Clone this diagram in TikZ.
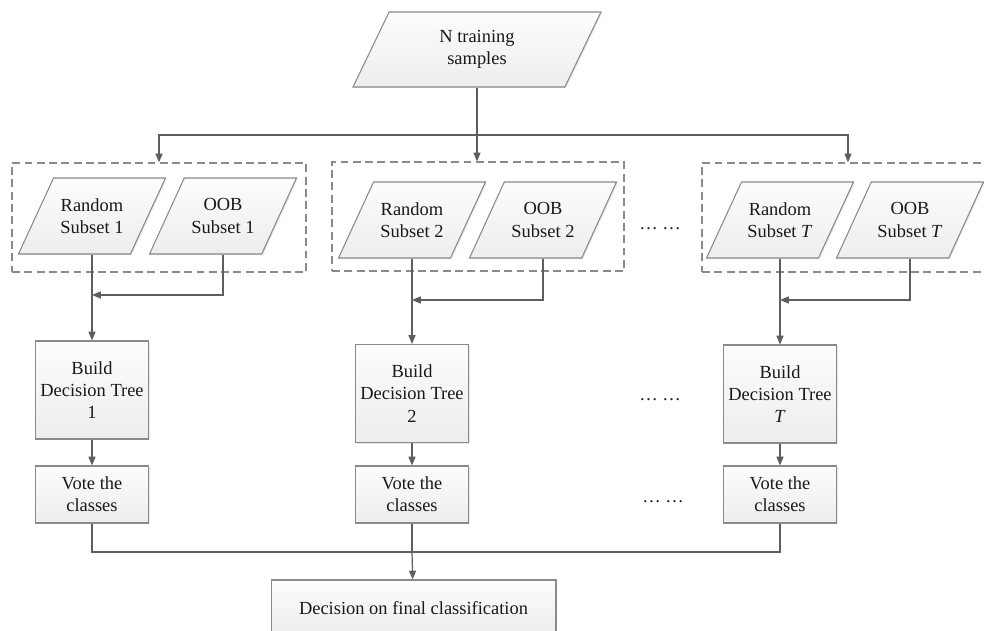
\documentclass[tikz,border=0pt]{standalone}
\usepackage{fontspec}
\setmainfont{Liberation Serif}
\usetikzlibrary{shapes.geometric,arrows.meta,shadows}

\definecolor{linegray}{HTML}{5E5E5E}
\definecolor{boxgray}{HTML}{8A8A8A}

\tikzset{
  shade box/.style={draw=boxgray, line width=0.6pt, top color=gray!2, bottom color=gray!14,
    drop shadow={shadow xshift=0.7pt, shadow yshift=-0.7pt, opacity=0.18}},
  data/.style={trapezium, trapezium left angle=64, trapezium right angle=116,
    trapezium stretches body, shade box, align=center, inner xsep=1pt, inner ysep=10.4pt,
    minimum width=2.94cm, minimum height=1.52cm},
  process/.style={rectangle, shade box, align=center, inner sep=1pt,
    minimum width=2.26cm},
  group/.style={rectangle, draw=boxgray, line width=0.7pt, dash pattern=on 4.5pt off 2.5pt,
    minimum width=5.88cm, minimum height=2.18cm},
}

\begin{document}
\begin{tikzpicture}[>={Triangle[length=5pt,width=4pt]}, x=0.02cm, y=-0.02cm,
    font=\fontsize{10.5}{12.7}\selectfont, text=black!90]
    \clip (0,0) rectangle (984,631);

    % input samples
    \node[data, inner ysep=10.1pt, minimum width=4.96cm, minimum height=1.5cm] (top) at (477,49.5) {N training\\samples};

    % bootstrap groups
    \node[group] (s1) at (159,217.5) {};
    \node[group, minimum width=5.84cm] (s2) at (478,216.5) {};
    \node[group] (s3) at (849,217.5) {};

    \node[data] (r1) at (92,216) {Random\\Subset 1};
    \node[data] (o1) at (223,216) {OOB\\Subset 1};
    \node[data] (r2) at (412,220) {Random\\Subset 2};
    \node[data] (o2) at (543,220) {OOB\\Subset 2};
    \node[data] (r3) at (780,220) {Random\\Subset \textit{T}};
    \node[data] (o3) at (910,220) {OOB\\Subset \textit{T}};

    % trees
    \node[process, minimum height=1.96cm] (b1) at (92,390) {Build\\Decision Tree\\1};
    \node[process, minimum height=1.96cm] (b2) at (412,393.5) {Build\\Decision Tree\\2};
    \node[process, minimum height=1.96cm] (b3) at (780,394) {Build\\Decision Tree\\\textit{T}};

    \node[process, minimum height=1.14cm] (v1) at (92,494.5) {Vote the\\classes};
    \node[process, minimum height=1.14cm] (v2) at (412,494.5) {Vote the\\classes};
    \node[process, minimum height=1.14cm] (v3) at (780,494.5) {Vote the\\classes};

    \node[process, minimum width=5.7cm, minimum height=1.12cm] (final) at (413.5,608) {Decision on final classification};

    % dots
    \node (d1) at (660,229) {\dots\ \dots};
    \node (d2) at (660,400) {\dots\ \dots};
    \node (d3) at (663,502) {\dots\ \dots};

    % connectors
    \coordinate (split) at (477,135);
    \coordinate (m1) at (92,295);
    \coordinate (m2) at (412,300);
    \coordinate (m3) at (780,300);
    \coordinate (join) at (412,552);

    \begin{scope}[draw=linegray, line width=0.7pt]
    \draw (top.center |- top.bottom side) -- (split);
    \draw[->] (split) -| (s1);
    \draw[->] (split) -- (split |- s2.north);
    \draw[->] (split) -| (s3.north -| 848,0);

    \draw[->] (o1.center |- o1.bottom side) |- (m1);
    \draw[->] (o2.center |- o2.bottom side) |- (m2);
    \draw[->] (o3.center |- o3.bottom side) |- (m3);
    \draw[->] (r1.center |- r1.bottom side) -- (b1);
    \draw[->] (r2.center |- r2.bottom side) -- (b2);
    \draw[->] (r3.center |- r3.bottom side) -- (b3);

    \draw[->] (b1) -- (v1);
    \draw[->] (b2) -- (v2);
    \draw[->] (b3) -- (v3);

    \draw (v1) |- (join) -| (v3);
    \draw (v2) -- (join);
    \draw[->] (join) -- (final);
    \end{scope}
\end{tikzpicture}
\end{document}
